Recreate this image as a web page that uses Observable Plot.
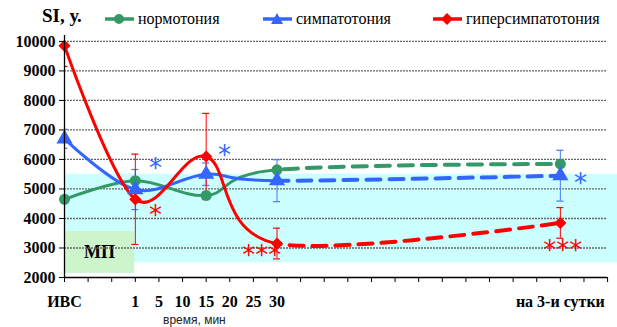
<!DOCTYPE html>
<html><head><meta charset="utf-8">
<script src="https://cdn.jsdelivr.net/npm/d3@7"></script>
<script src="https://cdn.jsdelivr.net/npm/@observablehq/plot@0.6"></script>
<style>
body{margin:0;background:#fff;}
#wrap{position:relative;width:617px;height:327px;overflow:hidden;font-family:"Liberation Serif","Times New Roman",Times,"DejaVu Serif",serif;}
#wrap > svg{position:absolute;left:0;top:0;}
.lg{position:absolute;top:9px;font-size:16px;line-height:20px;white-space:nowrap;display:flex;align-items:center;}
.lg svg{margin-right:4px;}
#ttl{position:absolute;left:42px;top:5px;font-size:19px;font-weight:bold;}
#xlab{position:absolute;left:163px;top:313px;font-family:"Liberation Sans",Arial,sans-serif;font-size:12px;color:#222;}
</style></head><body><div id="wrap"></div>
<script>
// ---- data ----
const seriesNames = ["нормотония", "симпатотония", "гиперсимпатотония"];
const seriesColors = ["#339966", "#3366ff", "#ff0000"];
const seriesSymbols = ["circle", "triangle", "diamond2"];
// x positions (category index) of measured points: ИВС, 1, 15, 30, на 3-и сутки
const pointX = [0, 3, 6, 9, 21];
const normo = [4650, 5280, 4780, 5650, 5850];
const simpa = [6700, 4980, 5500, 5280, 5450];
const hyper = [9850, 4650, 6100, 3150, 3850];
const simpaErr = [320, 680, 380, 710, 860];
const hyperErr = [700, 1530, 1460, 520, 520];
// x axis tick labels
const tickIdx = [0, 3, 4, 5, 6, 7, 8, 9, 21];
const tickText = ["ИВС", "1", "5", "10", "15", "20", "25", "30", "на 3-и сутки"];
const yTicks = [2000, 3000, 4000, 5000, 6000, 7000, 8000, 9000, 10000];
// significance marks
const starX = [3.85, 6.78, 21.85, 3.85, 8.35, 21.1];
const starY = [5970, 6400, 5460, 4370, 3020, 3190];
const starText = ["*", "*", "*", "*", "***", "***"];
const starSeries = [1, 1, 1, 2, 2, 2];
// reference bands
const normBand = [2500, 5500];
const mpBox = {x: [0, 2.97], y: [2140, 3560], label: "МП"};

// ---- build ----
const FONT = '"Liberation Serif","Times New Roman",Times,"DejaVu Serif",serif';
const values = [normo, simpa, hyper];
const errs = [null, simpaErr, hyperErr];
const cutX = 9;
const labelMap = new Map(tickIdx.map((d, i) => [d, tickText[i]]));

const marks = [];
marks.push(Plot.rect([normBand], {y1: d => d[0], y2: d => d[1], fill: "#ccffff"}));
marks.push(Plot.rect([mpBox], {x1: d => d.x[0], x2: d => d.x[1], y1: d => d.y[0], y2: d => d.y[1], fill: "#ccf5cc"}));
marks.push(Plot.text([mpBox], {x: d => (d.x[0] + d.x[1]) / 2, y: d => (d.y[0] + d.y[1]) / 2, text: d => d.label, fontSize: 18, fontWeight: "bold", fill: "#000"}));
marks.push(Plot.ruleY(yTicks.slice(1), {x1: 0, x2: 23, stroke: "#666", strokeWidth: 1.3, strokeDasharray: "2,1"}));

// error bars
values.forEach((vals, s) => {
  if (!errs[s]) return;
  const rows = pointX.map((x, i) => ({x, y: vals[i], e: errs[s][i]}));
  const col = s === 1 ? "#4a7cf0" : "#ff0000";
  marks.push(Plot.ruleX(rows, {x: "x", y1: d => d.y - d.e, y2: d => d.y + d.e, stroke: col, strokeWidth: 1, clip: true}));
  marks.push(Plot.ruleY(rows, {y: d => d.y + d.e, x1: d => d.x - 0.15, x2: d => d.x + 0.15, stroke: col, strokeWidth: 1.2, clip: true}));
  marks.push(Plot.ruleY(rows, {y: d => d.y - d.e, x1: d => d.x - 0.15, x2: d => d.x + 0.15, stroke: col, strokeWidth: 1.2, clip: true}));
});

// lines (drawn once dashed, once solid; each is clipped below at the 30-min point)
values.forEach((vals, s) => {
  const rows = pointX.map((x, i) => ({x, y: vals[i]}));
  marks.push(Plot.line(rows, {x: "x", y: "y", curve: "cardinal", tension: 0, stroke: seriesColors[s], strokeWidth: 4, strokeDasharray: "14,9"}));
  marks.push(Plot.line(rows, {x: "x", y: "y", curve: "cardinal", tension: 0, stroke: seriesColors[s], strokeWidth: 3}));
});
// markers
values.forEach((vals, s) => {
  const rows = pointX.map((x, i) => ({x, y: vals[i]}));
  marks.push(Plot.dot(rows, {x: "x", y: "y", symbol: seriesSymbols[s], fill: seriesColors[s], stroke: "none", r: s === 1 ? 6 : 5.5}));
});
// stars
const starRows = starX.map((x, i) => ({x, y: starY[i], t: starText[i], c: seriesColors[starSeries[i]]}));
marks.push(Plot.text(starRows, {x: "x", y: "y", text: "t", fill: d => d.c, fontSize: 26, fontFamily: "DejaVu Sans", fontWeight: "normal", dy: 8}));

// axes
marks.push(Plot.ruleX([0], {y1: 2000, y2: 10200, stroke: "#000", strokeWidth: 1.3}));
marks.push(Plot.ruleY([2000], {x1: 0, x2: 23, stroke: "#000", strokeWidth: 1.3}));
marks.push(Plot.axisY({ticks: yTicks, tickSize: 5, tickPadding: 4, tickFormat: d => String(d), label: null, fontWeight: "bold", fontFamily: FONT}));
marks.push(Plot.axisX({ticks: d3.range(0, 24), tickSize: 5, tickPadding: 13, tickFormat: i => labelMap.get(i) ?? "", label: null, fontWeight: "bold", fontFamily: FONT}));

const plot = Plot.plot({
  width: 617, height: 327,
  marginLeft: 64, marginRight: 0, marginTop: 35, marginBottom: 50,
  x: {domain: [0, 23.42], axis: null},
  y: {domain: [2000, 10200], axis: null},
  color: {type: "identity"},
  style: {fontFamily: FONT, fontSize: "16px", background: "transparent", color: "#000", overflow: "visible"},
  marks
});

// clip solid / dashed parts of the lines at the 30-minute point
const cx = plot.scale("x").apply(cutX);
const ns = "http://www.w3.org/2000/svg";
const defs = document.createElementNS(ns, "defs");
function addClip(id, x, w) {
  const cp = document.createElementNS(ns, "clipPath");
  cp.setAttribute("id", id);
  const r = document.createElementNS(ns, "rect");
  r.setAttribute("x", x); r.setAttribute("y", 0);
  r.setAttribute("width", w); r.setAttribute("height", 327);
  cp.appendChild(r); defs.appendChild(cp);
}
addClip("clipSolid", 0, cx);
addClip("clipDash", cx, 617 - cx);
plot.insertBefore(defs, plot.firstChild);
plot.querySelectorAll('g[aria-label="line"]').forEach(g => {
  g.setAttribute("clip-path", g.hasAttribute("stroke-dasharray") ? "url(#clipDash)" : "url(#clipSolid)");
});

const wrap = document.getElementById("wrap");
wrap.appendChild(plot);

// title, legend, x label
const ttl = document.createElement("div"); ttl.id = "ttl"; ttl.textContent = "SI, у."; wrap.appendChild(ttl);
const lgLeft = [105, 263, 433];
const symPaths = ["M14,0m-5,0a5,5 0 1,0 10,0a5,5 0 1,0 -10,0", "M14,-6L20,5L8,5Z", "M14,-6L20,0L14,6L8,0Z"];
seriesNames.forEach((name, s) => {
  const d = document.createElement("div"); d.className = "lg"; d.style.left = lgLeft[s] + "px";
  d.innerHTML = `<svg width="29" height="16" viewBox="0 -8 29 16"><line x1="0" x2="29" y1="0" y2="0" stroke="${seriesColors[s]}" stroke-width="3.5"/><path d="${symPaths[s]}" fill="${seriesColors[s]}"/></svg><span>${name}</span>`;
  wrap.appendChild(d);
});
const xl = document.createElement("div"); xl.id = "xlab"; xl.textContent = "время, мин"; wrap.appendChild(xl);
</script></body></html>
